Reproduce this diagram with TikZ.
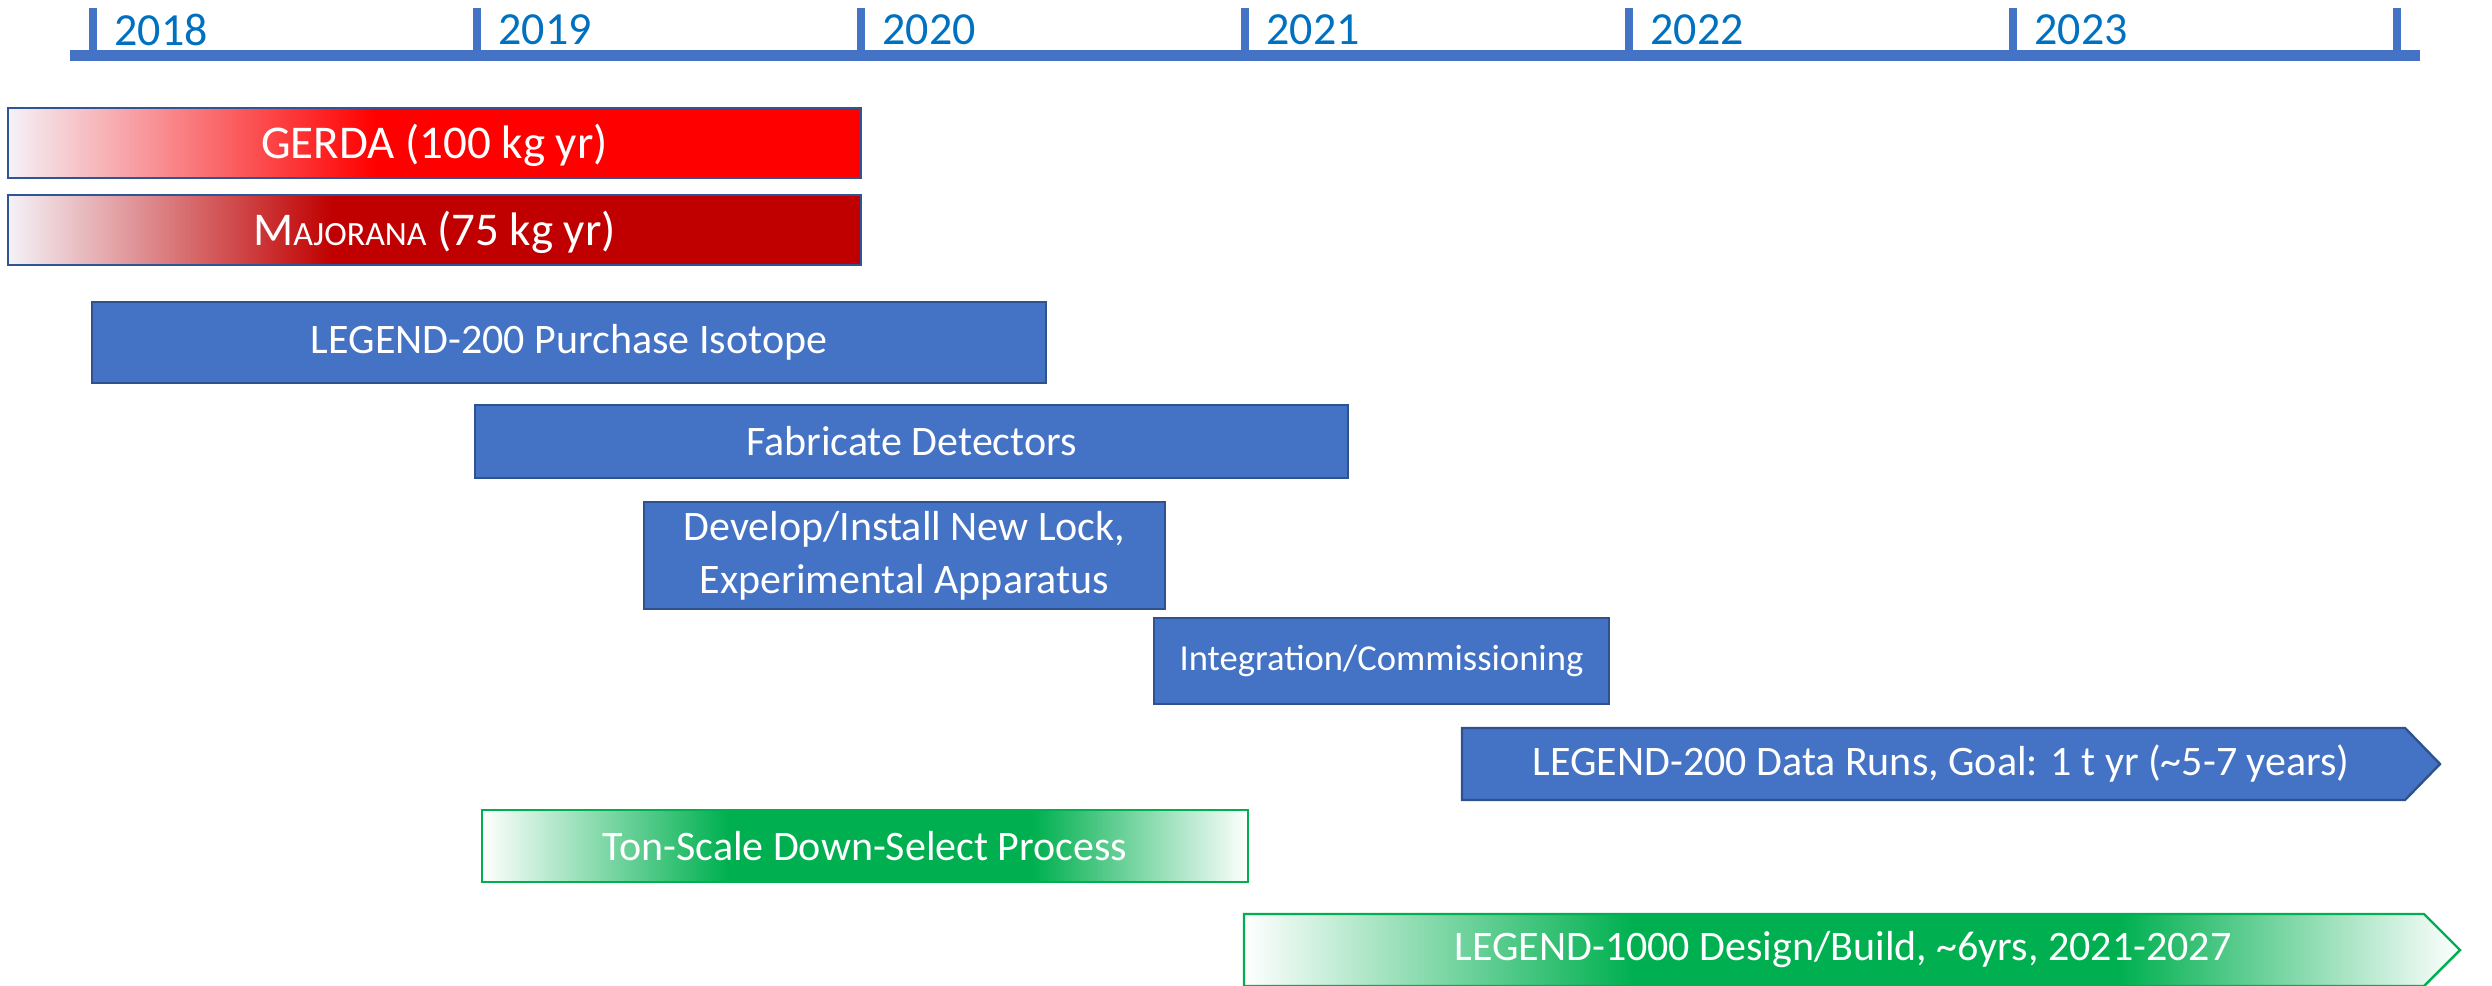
\documentclass[tikz,border=0pt]{standalone}
\usepackage{fontspec}
\setmainfont{Carlito}
\usetikzlibrary{calc}

\definecolor{axisblue}{HTML}{4472C4}
\definecolor{yearblue}{HTML}{0070C0}
\definecolor{barblue}{HTML}{4472C4}
\definecolor{barline}{HTML}{2F528F}
\definecolor{redline}{HTML}{2F5597}
\definecolor{gerdared}{HTML}{FF0000}
\definecolor{majred}{HTML}{C00000}
\definecolor{tongreen}{HTML}{00B050}
\definecolor{fadewhite}{HTML}{F4F2F8}

% horizontal fades; the path spans 25bp..75bp of each shading
\pgfdeclarehorizontalshading{gerdafade}{100bp}{color(0bp)=(fadewhite); color(25bp)=(fadewhite); color(46.5bp)=(gerdared); color(100bp)=(gerdared)}
\pgfdeclarehorizontalshading{majfade}{100bp}{color(0bp)=(fadewhite); color(25bp)=(fadewhite); color(44bp)=(majred); color(100bp)=(majred)}
\pgfdeclarehorizontalshading{greenfade}{100bp}{color(0bp)=(white); color(25bp)=(white); color(41bp)=(tongreen); color(61bp)=(tongreen); color(75bp)=(white); color(100bp)=(white)}

\tikzset{
  axisline/.style={draw=axisblue, line width=5.5pt},
  tickline/.style={draw=axisblue, line width=4pt},
  yearlabel/.style={anchor=west, inner sep=0pt, text=yearblue, font=\fontsize{23}{27}\selectfont},
  redbar/.style={draw=redline, line width=1.2pt},
  bluebar/.style={draw=barline, fill=barblue, line width=1.2pt},
  greenbar/.style={draw=tongreen, line width=1.2pt, shading=greenfade},
  bigtext/.style={text=white, inner sep=0pt, font=\fontsize{23.5}{28}\selectfont},
  bartext/.style={text=white, inner sep=0pt, align=center, font=\fontsize{21}{26.5}\selectfont},
  smalltext/.style={text=white, inner sep=0pt, font=\fontsize{18.3}{22}\selectfont},
}

\begin{document}
\begin{tikzpicture}[x=0.5pt, y=-0.5pt]
\useasboundingbox (0,0) rectangle (2492,985);

% time axis with yearly ticks
\draw[axisline] (70,55.5) -- (2420,55.5);
\foreach \yr [count=\i from 0] in {2018,2019,2020,2021,2022,2023} {
  \draw[tickline] ({93+384*\i},8) -- ({93+384*\i},55);
  \node[yearlabel] (year\yr) at ({114+384*\i},30) {\yr};
}
\draw[tickline] (2397,8) -- (2397,55);

% existing experiments
\draw[redbar, shading=gerdafade] (8,108) rectangle (861,178);
\node[bigtext] (gerda) at (434.5,145) {GERDA (100 kg yr)};
\draw[redbar, shading=majfade] (8,195) rectangle (861,265);
\node[bigtext] (majorana) at (434.5,232) {M{\fontsize{17}{20}\selectfont AJORANA} (75 kg yr)};

% LEGEND-200 tasks
\draw[bluebar] (92,302) rectangle (1046,383);
\node[bartext] (purchase) at (569,342.5) {LEGEND-200 Purchase Isotope};
\draw[bluebar] (475,405) rectangle (1348,478);
\node[bartext] (fabricate) at (911.5,441.5) {Fabricate Detectors};
\draw[bluebar] (644,502) rectangle (1165,609);
\node[bartext] (develop) at (904.5,555.5) {Develop/Install New Lock,\\Experimental Apparatus};
\draw[bluebar] (1154,618) rectangle (1609,704);
\node[smalltext] (integration) at (1381.5,661) {Integration/Commissioning};
\draw[bluebar] (1462,728) -- (2405,728) -- (2440,764) -- (2405,800) -- (1462,800) -- cycle;
\node[bartext] (dataruns) at (1941,764) {LEGEND-200 Data Runs, Goal: 1 t yr (\textasciitilde5-7 years)};

% ton-scale programme
\draw[greenbar] (482,810) rectangle (1248,882);
\node[bartext] (downselect) at (865,846) {Ton-Scale Down-Select Process};
\draw[greenbar] (1244,914) -- (2424,914) -- (2460,950) -- (2424,986) -- (1244,986) -- cycle;
\node[bartext] (legend1000) at (1843,950) {LEGEND-1000 Design/Build, \textasciitilde6yrs, 2021-2027};
\end{tikzpicture}
\end{document}
